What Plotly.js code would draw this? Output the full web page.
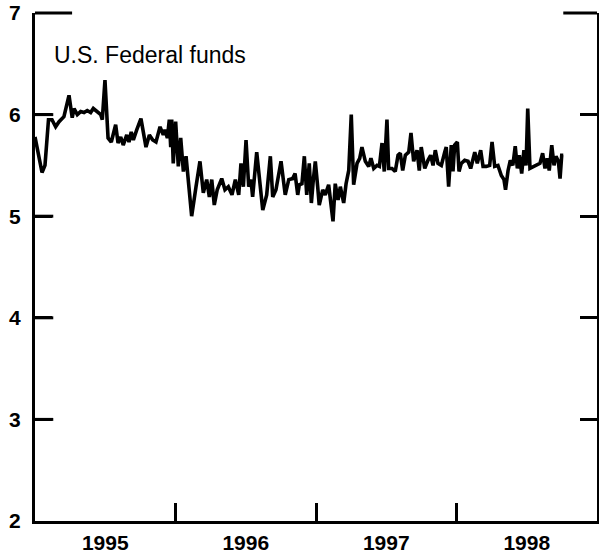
<!DOCTYPE html>
<html>
<head>
<meta charset="utf-8">
<script src="https://cdn.plot.ly/plotly-3.0.1.min.js"></script>
<style>html,body{margin:0;padding:0;background:#fff;}#chart{width:599px;height:555px;}</style>
</head>
<body>
<div id="chart"></div>
<script>
// Time in decimal years
const timeYears = [
1995.000,1995.025,1995.050,1995.071,1995.096,1995.121,1995.147,1995.171,1995.206,1995.242,
1995.265,1995.278,1995.301,1995.325,1995.349,1995.372,1995.396,1995.415,1995.443,1995.468,
1995.479,1995.498,1995.520,1995.543,1995.574,1995.591,1995.610,1995.628,1995.653,1995.669,
1995.685,1995.700,1995.724,1995.754,1995.790,1995.814,1995.838,1995.861,1995.890,1995.913,
1995.925,1995.942,1995.956,1995.966,1995.973,1995.984,1996.001,1996.020,1996.037,1996.056,
1996.075,1996.091,1996.115,1996.146,1996.174,1996.198,1996.222,1996.241,1996.258,1996.276,
1996.297,1996.329,1996.352,1996.376,1996.402,1996.426,1996.450,1996.466,1996.483,1996.502,
1996.521,1996.537,1996.549,1996.578,1996.596,1996.621,1996.649,1996.675,1996.692,1996.715,
1996.751,1996.781,1996.806,1996.834,1996.851,1996.870,1996.881,1996.900,1996.917,1996.934,
1996.952,1996.967,1996.981,1996.995,1997.012,1997.023,1997.048,1997.066,1997.090,1997.121,
1997.137,1997.157,1997.173,1997.197,1997.214,1997.233,1997.251,1997.268,1997.292,1997.311,
1997.327,1997.351,1997.375,1997.391,1997.411,1997.434,1997.451,1997.470,1997.486,1997.505,
1997.517,1997.541,1997.564,1997.584,1997.600,1997.617,1997.636,1997.660,1997.676,1997.695,
1997.719,1997.735,1997.749,1997.774,1997.797,1997.816,1997.833,1997.849,1997.868,1997.892,
1997.916,1997.927,1997.944,1997.963,1997.975,1997.987,1998.006,1998.018,1998.034,1998.058,
1998.082,1998.101,1998.130,1998.148,1998.172,1998.189,1998.212,1998.236,1998.253,1998.272,
1998.295,1998.319,1998.338,1998.349,1998.367,1998.383,1998.401,1998.418,1998.433,1998.447,
1998.464,1998.480,1998.495,1998.507,1998.523,1998.547,1998.571,1998.594,1998.613,1998.630,
1998.646,1998.660,1998.678,1998.694,1998.708,1998.725,1998.737,1998.749,1998.760
];
// U.S. Federal funds rate, percent
const fedFunds = [
5.78,5.60,5.43,5.50,5.95,5.95,5.88,5.93,5.98,6.19,
5.97,6.06,6.00,6.03,6.02,6.04,6.02,6.06,6.03,6.00,
5.95,6.34,5.77,5.73,5.90,5.72,5.78,5.70,5.80,5.73,
5.83,5.75,5.85,5.96,5.68,5.80,5.75,5.73,5.88,5.80,
5.85,5.77,5.95,5.68,5.95,5.52,5.93,5.49,5.77,5.44,
5.59,5.36,5.00,5.29,5.54,5.23,5.36,5.19,5.36,5.11,
5.26,5.37,5.26,5.29,5.21,5.36,5.21,5.52,5.29,5.75,
5.29,5.36,5.19,5.63,5.36,5.06,5.21,5.59,5.19,5.26,
5.54,5.21,5.36,5.37,5.42,5.21,5.31,5.32,5.59,5.21,
5.52,5.13,5.36,5.54,5.29,5.11,5.26,5.21,5.31,4.95,
5.32,5.16,5.29,5.13,5.32,5.45,6.00,5.31,5.52,5.57,
5.68,5.54,5.49,5.57,5.47,5.50,5.49,5.72,5.44,5.95,
5.47,5.47,5.44,5.60,5.62,5.45,5.60,5.63,5.82,5.54,
5.65,5.45,5.68,5.47,5.55,5.60,5.50,5.65,5.52,5.50,
5.63,5.68,5.29,5.70,5.44,5.70,5.73,5.44,5.52,5.55,
5.54,5.47,5.63,5.52,5.65,5.49,5.49,5.50,5.73,5.49,
5.50,5.40,5.36,5.26,5.45,5.55,5.50,5.69,5.47,5.60,
5.42,5.65,5.50,6.06,5.47,5.49,5.50,5.52,5.62,5.47,
5.57,5.45,5.70,5.50,5.59,5.54,5.37,5.60,5.60
];
const yearBoundaries = [1996, 1997, 1998];
const yearLabelPos = [1995.5, 1996.5, 1997.5, 1998.5];
const yearLabels = ['1995', '1996', '1997', '1998'];
const yTicks = [2, 3, 4, 5, 6, 7];
const yTickText = ['2', '3', '4', '5', '6', '7'];
const seriesLabel = 'U.S. Federal funds';

const trace = {
  x: timeYears, y: fedFunds, type: 'scatter', mode: 'lines',
  line: {color: '#000', width: 3.6, shape: 'linear'}, hoverinfo: 'skip'
};

const tickFont = {size: 21, family: 'Liberation Sans, Arial, sans-serif', weight: 'bold', color: '#000'};

const tickShapes = [];
for (let i = 1; i < yTicks.length - 1; i++) {
  tickShapes.push({
    type: 'line', xref: 'x', yref: 'y', x0: 1995, x1: 1995.13,
    y0: yTicks[i], y1: yTicks[i], layer: 'above',
    line: {color: '#000', width: 3}
  });
}

const layout = {
  width: 599, height: 555,
  margin: {l: 35, r: 2, t: 13, b: 34},
  paper_bgcolor: '#fff', plot_bgcolor: '#fff',
  showlegend: false,
  font: {family: 'Liberation Sans, Arial, sans-serif', color: '#000'},
  xaxis: {
    range: [1995, 1999], showgrid: false, zeroline: false,
    showline: true, linecolor: '#000', linewidth: 3, mirror: false,
    tickmode: 'array', tickvals: yearLabelPos, ticktext: yearLabels, ticks: '',
    tickfont: tickFont,
    ticklabelstandoff: 1,
    minor: {tickmode: 'array', tickvals: yearBoundaries, ticks: 'inside', ticklen: 18, tickwidth: 3, tickcolor: '#000', showgrid: false}
  },
  yaxis: {
    range: [2, 7], showgrid: false, zeroline: false,
    showline: true, linecolor: '#000', linewidth: 3, mirror: 'ticks',
    tickmode: 'array', tickvals: yTicks, ticktext: yTickText, ticks: 'inside', ticklen: 17, tickwidth: 3, tickcolor: '#000',
    tickfont: tickFont,
    ticklabelstandoff: 7
  },
  shapes: [
    {type: 'line', xref: 'paper', yref: 'paper', x0: 0, x1: 0.066, y0: 1, y1: 1, layer: 'above', line: {color: '#000', width: 3}},
    {type: 'line', xref: 'paper', yref: 'paper', x0: 0.94, x1: 1, y0: 1, y1: 1, layer: 'above', line: {color: '#000', width: 3}}
  ].concat(tickShapes),
  annotations: [
    {text: seriesLabel, xref: 'paper', yref: 'paper', x: 0.031, y: 0.917, xanchor: 'left', yanchor: 'middle',
     showarrow: false, font: {size: 23, family: 'Liberation Sans, Arial, sans-serif', color: '#000'}}
  ]
};

Plotly.newPlot('chart', [trace], layout, {staticPlot: true, displayModeBar: false});
</script>
</body>
</html>
